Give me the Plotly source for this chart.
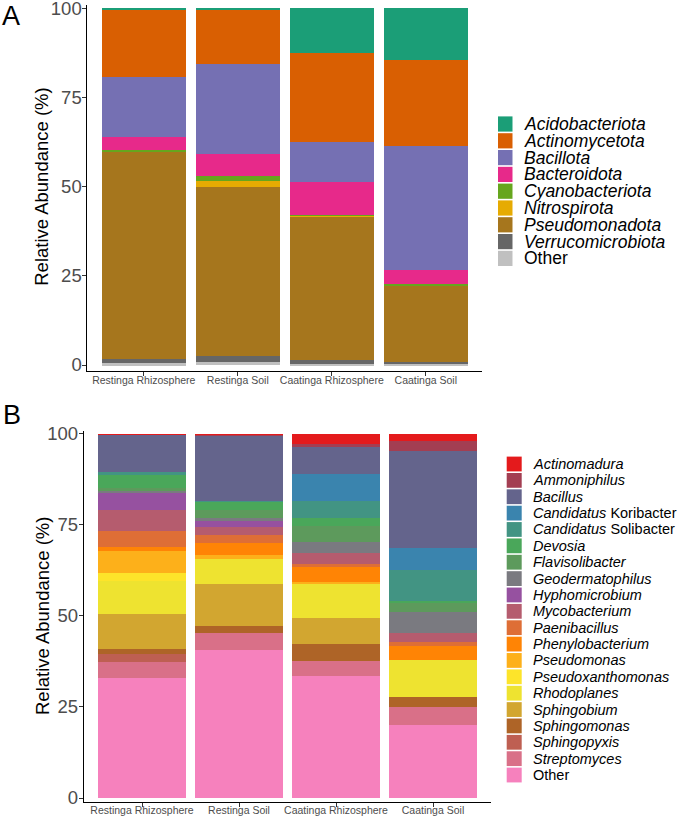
import plotly.graph_objects as go

W, H = 677, 816

# ---------------- Data ----------------
samples = ["Restinga Rhizosphere", "Restinga Soil", "Caatinga Rhizosphere", "Caatinga Soil"]

phyla = ["Acidobacteriota", "Actinomycetota", "Bacillota", "Bacteroidota", "Cyanobacteriota",
         "Nitrospirota", "Pseudomonadota", "Verrucomicrobiota", "Other"]
phyla_colors = ["#1B9E77", "#D95F02", "#7570B3", "#E7298A", "#66A61E",
                "#E6AB02", "#A6761D", "#666666", "#C0C0C0"]
phyla_restinga_rhizo = [0.4, 18.9, 16.7, 3.6, 0.4, 0.2, 58.0, 1.3, 0.5]
phyla_restinga_soil = [0.3, 15.2, 25.4, 6.1, 1.3, 1.7, 47.4, 1.8, 0.8]
phyla_caatinga_rhizo = [12.4, 25.1, 11.1, 9.2, 0.3, 0.2, 40.3, 1.0, 0.4]
phyla_caatinga_soil = [14.4, 24.2, 34.7, 3.9, 0.4, 0.2, 21.3, 0.6, 0.3]

genera = ["Actinomadura", "Ammoniphilus", "Bacillus", "Candidatus Koribacter", "Candidatus Solibacter",
          "Devosia", "Flavisolibacter", "Geodermatophilus", "Hyphomicrobium", "Mycobacterium",
          "Paenibacillus", "Phenylobacterium", "Pseudomonas", "Pseudoxanthomonas", "Rhodoplanes",
          "Sphingobium", "Sphingomonas", "Sphingopyxis", "Streptomyces", "Other"]
genera_labels = ["<i>Actinomadura</i>", "<i>Ammoniphilus</i>", "<i>Bacillus</i>",
                 "<i>Candidatus</i> Koribacter", "<i>Candidatus</i> Solibacter",
                 "<i>Devosia</i>", "<i>Flavisolibacter</i>", "<i>Geodermatophilus</i>",
                 "<i>Hyphomicrobium</i>", "<i>Mycobacterium</i>", "<i>Paenibacillus</i>",
                 "<i>Phenylobacterium</i>", "<i>Pseudomonas</i>", "<i>Pseudoxanthomonas</i>",
                 "<i>Rhodoplanes</i>", "<i>Sphingobium</i>", "<i>Sphingomonas</i>",
                 "<i>Sphingopyxis</i>", "<i>Streptomyces</i>", "Other"]
genera_colors = ["#E41A1C", "#A33E52", "#64648C", "#3A84AE", "#429483",
                 "#4AA75A", "#5D9A5C", "#7A7A80", "#9651A0", "#B55C6E",
                 "#DE6E36", "#FF8405", "#FDB01A", "#FDE42A", "#EEE330",
                 "#D2A630", "#AE6427", "#BE5F52", "#D97088", "#F681BD"]
genera_restinga_rhizo = [0.1, 0.1, 10.3, 0.0, 0.5, 3.9, 0.9, 0.3, 4.8, 5.7,
                         4.5, 1.0, 6.0, 2.4, 9.0, 9.6, 1.4, 2.1, 4.4, 33.0]
genera_restinga_soil = [0.1, 0.3, 18.1, 0.0, 0.1, 2.3, 2.1, 0.8, 1.8, 2.1,
                        2.3, 3.2, 1.1, 0.0, 6.9, 11.5, 2.1, 0.0, 4.6, 40.6]
genera_caatinga_rhizo = [2.7, 0.9, 7.3, 7.6, 4.7, 2.0, 4.6, 3.0, 0.0, 3.0,
                         0.7, 4.2, 0.4, 0.0, 9.4, 7.2, 4.7, 0.0, 4.1, 33.5]
genera_caatinga_soil = [1.8, 2.8, 26.8, 6.0, 8.5, 0.2, 2.7, 5.9, 0.0, 2.4,
                        1.1, 3.9, 0.0, 0.0, 10.2, 0.0, 2.6, 0.0, 5.1, 20.0]

y_ticks = [0, 25, 50, 75, 100]

# ---------------- Figure ----------------
fig = go.Figure()

phyla_table = [phyla_restinga_rhizo, phyla_restinga_soil, phyla_caatinga_rhizo, phyla_caatinga_soil]
genera_table = [genera_restinga_rhizo, genera_restinga_soil, genera_caatinga_rhizo, genera_caatinga_soil]

# stacked bottom-up: last legend item at bottom
for i in reversed(range(len(phyla))):
    fig.add_trace(go.Bar(x=samples, y=[row[i] for row in phyla_table], name=phyla[i],
                         marker=dict(color=phyla_colors[i], line=dict(width=0)),
                         showlegend=False, xaxis="x", yaxis="y"))
for i in reversed(range(len(genera))):
    fig.add_trace(go.Bar(x=samples, y=[row[i] for row in genera_table], name=genera[i],
                         marker=dict(color=genera_colors[i], line=dict(width=0)),
                         showlegend=False, xaxis="x2", yaxis="y2"))

def px(x):
    return x / W

def py(y):
    return 1 - y / H

axis_common = dict(showline=True, linecolor="#000000", linewidth=1, ticks="outside",
                   ticklen=4, tickcolor="#333333", tickwidth=1, showgrid=False, zeroline=False,
                   fixedrange=True, ticklabeloverflow="allow", automargin=False)

xtick_font = dict(size=10.5, color="#4D4D4D")
ytick_font = dict(size=18.5, color="#4D4D4D")

fig.update_layout(
    width=W, height=H,
    margin=dict(l=0, r=0, t=0, b=0),
    paper_bgcolor="white", plot_bgcolor="white",
    barmode="stack", bargap=0.1,
    font=dict(family="Liberation Sans, Arial, sans-serif", color="#000000"),
    xaxis=dict(domain=[px(87.4), px(482.2)], anchor="y", range=[-0.6, 3.6],
               tickfont=xtick_font, ticklabelstandoff=-4, **axis_common),
    yaxis=dict(domain=[py(370.5), py(5)], anchor="x", range=[-1.54, 100.98],
               tickvals=y_ticks, tickfont=ytick_font, ticklabelstandoff=-3, **axis_common),
    xaxis2=dict(domain=[px(83.8), px(491.2)], anchor="y2", range=[-0.6, 3.6],
                tickfont=xtick_font, ticklabelstandoff=-6, **axis_common),
    yaxis2=dict(domain=[py(802), py(430.7)], anchor="x2", range=[-1.1, 100.9],
                tickvals=y_ticks, tickfont=ytick_font, ticklabelstandoff=-3, **axis_common),
)

annotations = []
shapes = []

# axis titles
for yc in [(8.5 + 365) / 2, (434 + 798) / 2]:
    annotations.append(dict(text="Relative Abundance (%)", x=px(42), y=py(yc),
                            xref="paper", yref="paper", showarrow=False, textangle=-90,
                            xanchor="center", yanchor="middle",
                            font=dict(size=18.5, color="#000000")))
# panel letters
annotations.append(dict(text="A", x=px(11), y=py(16), xref="paper", yref="paper",
                        showarrow=False, xanchor="center", yanchor="middle",
                        font=dict(size=27, color="#000000")))
annotations.append(dict(text="B", x=px(12), y=py(415), xref="paper", yref="paper",
                        showarrow=False, xanchor="center", yanchor="middle",
                        font=dict(size=27, color="#000000")))

# legend A
for i, name in enumerate(phyla):
    yc = 124 + 16.8 * i
    shapes.append(dict(type="rect", xref="paper", yref="paper",
                       x0=px(498), x1=px(512.5), y0=py(yc + 7.6), y1=py(yc - 7.6),
                       fillcolor=phyla_colors[i], line=dict(width=0)))
    label = name if name == "Other" else "<i>" + name + "</i>"
    annotations.append(dict(text=label, x=px(522), y=py(yc), xref="paper", yref="paper",
                            showarrow=False, xanchor="left", yanchor="middle",
                            font=dict(size=17.5, color="#000000")))

# legend B
for i, label in enumerate(genera_labels):
    yc = 464 + 16.37 * i
    shapes.append(dict(type="rect", xref="paper", yref="paper",
                       x0=px(506.7), x1=px(521.7), y0=py(yc + 7.4), y1=py(yc - 7.4),
                       fillcolor=genera_colors[i], line=dict(width=0)))
    annotations.append(dict(text=label, x=px(531), y=py(yc), xref="paper", yref="paper",
                            showarrow=False, xanchor="left", yanchor="middle",
                            font=dict(size=14.5, color="#000000")))

fig.update_layout(annotations=annotations, shapes=shapes)

fig.write_html("out.html")
